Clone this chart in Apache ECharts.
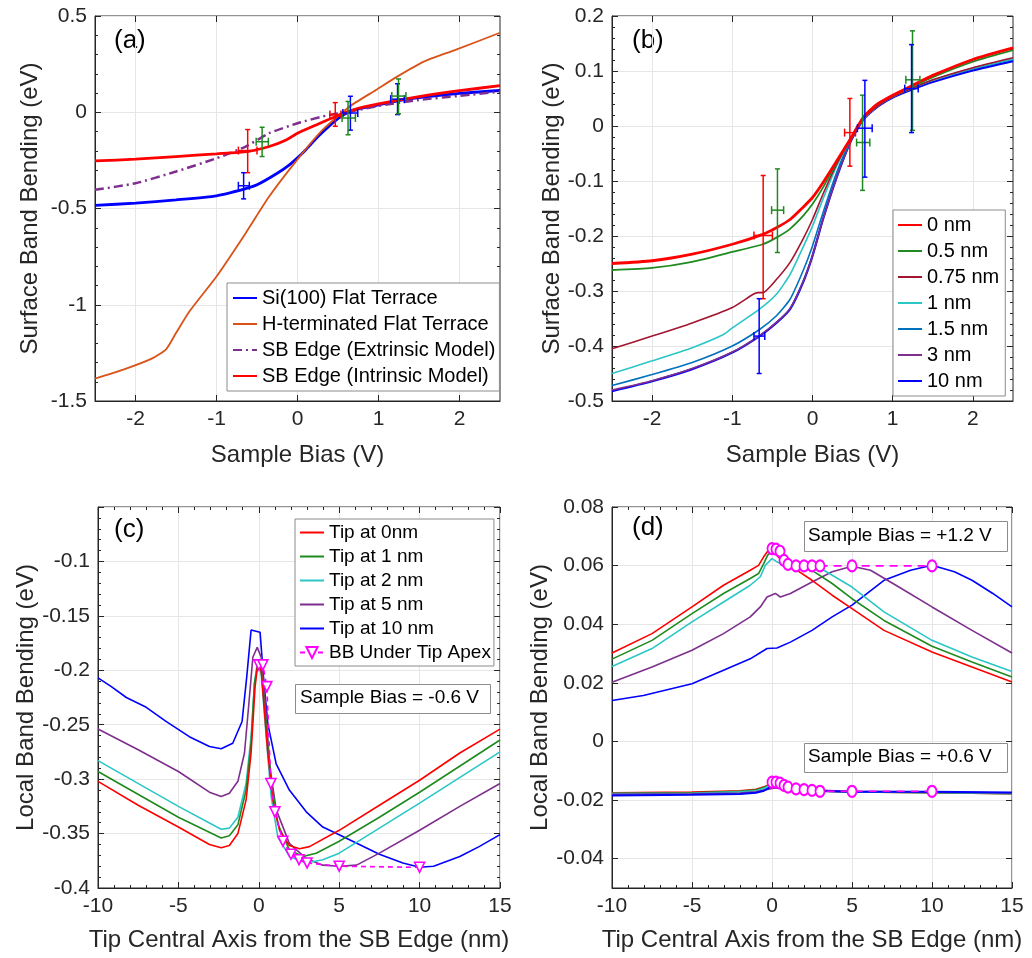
<!DOCTYPE html>
<html><head><meta charset="utf-8">
<script src="https://cdn.jsdelivr.net/npm/echarts@6/dist/echarts.min.js"></script>
<style>html,body{margin:0;padding:0;background:#fff}#c{width:1032px;height:958px}</style>
</head><body><div id="c"></div>
<script>
// ---------- Panel (a) ----------
const aSiFlat = [[-2.5,-0.484],[-2.0,-0.472],[-1.5,-0.455],[-1.0,-0.434],[-0.65,-0.398],[-0.5,-0.377],[-0.25,-0.317],[-0.1,-0.273],[0,-0.237],[0.1,-0.196],[0.25,-0.128],[0.4,-0.068],[0.55,-0.017],[0.7,0.012],[1.0,0.038],[1.25,0.060],[1.5,0.076],[2.0,0.098],[2.5,0.113]];
const aHTerm = [[-2.5,-1.384],[-2.15,-1.337],[-1.8,-1.28],[-1.62,-1.23],[-1.5,-1.147],[-1.335,-1.035],[-1.0,-0.853],[-0.64,-0.628],[-0.35,-0.438],[0,-0.245],[0.31,-0.092],[0.64,0.029],[0.97,0.116],[1.23,0.185],[1.56,0.263],[1.95,0.324],[2.5,0.413]];
const aExtrinsic = [[-2.5,-0.403],[-2.0,-0.369],[-1.5,-0.308],[-1.0,-0.239],[-0.64,-0.178],[-0.35,-0.109],[0,-0.057],[0.39,-0.014],[0.64,0.003],[1.0,0.033],[1.5,0.064],[2.0,0.085],[2.5,0.107]];
const aIntrinsic = [[-2.5,-0.253],[-2.0,-0.244],[-1.5,-0.230],[-1.0,-0.216],[-0.62,-0.204],[-0.35,-0.178],[-0.14,-0.144],[0,-0.109],[0.23,-0.066],[0.47,-0.022],[0.72,0.016],[1.0,0.043],[1.5,0.081],[2.0,0.112],[2.5,0.138]];
// error bars: [x, y, yLow, yHigh, xLow, xHigh]
const ebRed = [[-0.615,-0.199,-0.314,-0.090,-0.73,-0.50],[0.466,-0.012,-0.073,0.050,0.40,0.536]];
const ebGreen = [[-0.437,-0.153,-0.230,-0.078,-0.51,-0.36],[0.624,-0.030,-0.117,0.056,0.55,0.715],[1.247,0.084,-0.008,0.173,1.164,1.339]];
const ebBlue = [[-0.665,-0.382,-0.450,-0.314,-0.73,-0.595],[0.653,-0.004,-0.093,0.083,0.56,0.744],[1.235,0.068,-0.012,0.148,1.15,1.318]];
// ---------- Panel (b) ----------
const b0 = [[-2.5,-0.250],[-2,-0.245],[-1.5,-0.233],[-1,-0.215],[-0.62,-0.197],[-0.45,-0.185],[-0.28,-0.170],[-0.12,-0.148],[0,-0.130],[0.13,-0.103],[0.30,-0.064],[0.47,-0.024],[0.63,0.015],[0.80,0.039],[1.0,0.056],[1.25,0.074],[1.5,0.092],[2.0,0.121],[2.5,0.142]];
const b05 = [[-2.5,-0.262],[-2,-0.258],[-1.5,-0.247],[-1,-0.229],[-0.62,-0.215],[-0.45,-0.203],[-0.28,-0.187],[-0.12,-0.164],[0,-0.142],[0.13,-0.112],[0.30,-0.067],[0.47,-0.024],[0.63,0.015],[0.80,0.039],[1.0,0.055],[1.25,0.072],[1.5,0.089],[2.0,0.117],[2.5,0.138]];
const b075 = [[-2.5,-0.405],[-2,-0.382],[-1.5,-0.358],[-1,-0.330],[-0.74,-0.306],[-0.68,-0.303],[-0.62,-0.303],[-0.45,-0.279],[-0.28,-0.248],[-0.12,-0.206],[0,-0.170],[0.13,-0.124],[0.30,-0.070],[0.47,-0.025],[0.63,0.013],[0.83,0.038],[1.0,0.053],[1.25,0.069],[1.5,0.084],[2.0,0.106],[2.5,0.124]];
const b1 = [[-2.5,-0.450],[-2,-0.427],[-1.5,-0.403],[-1.11,-0.379],[-1,-0.367],[-0.66,-0.333],[-0.45,-0.306],[-0.28,-0.270],[-0.12,-0.221],[0,-0.182],[0.13,-0.133],[0.30,-0.073],[0.47,-0.025],[0.63,0.012],[0.83,0.038],[1.0,0.053],[1.25,0.069],[1.5,0.083],[2.0,0.105],[2.5,0.122]];
const b15 = [[-2.5,-0.472],[-2,-0.452],[-1.5,-0.430],[-1,-0.400],[-0.66,-0.370],[-0.45,-0.345],[-0.28,-0.315],[-0.12,-0.264],[0,-0.218],[0.13,-0.158],[0.30,-0.085],[0.47,-0.027],[0.63,0.012],[0.83,0.038],[1.0,0.053],[1.25,0.069],[1.5,0.083],[2.0,0.104],[2.5,0.121]];
const b3 = [[-2.5,-0.480],[-2,-0.463],[-1.5,-0.441],[-1,-0.411],[-0.66,-0.381],[-0.45,-0.357],[-0.28,-0.332],[-0.12,-0.284],[0,-0.236],[0.13,-0.170],[0.30,-0.094],[0.47,-0.030],[0.63,0.011],[0.83,0.038],[1.0,0.053],[1.25,0.069],[1.5,0.083],[2.0,0.105],[2.5,0.122]];
const b10 = [[-2.5,-0.482],[-2,-0.464],[-1.5,-0.442],[-1,-0.412],[-0.66,-0.382],[-0.45,-0.358],[-0.28,-0.333],[-0.12,-0.285],[0,-0.236],[0.13,-0.170],[0.30,-0.094],[0.47,-0.030],[0.63,0.011],[0.83,0.037],[1.0,0.052],[1.25,0.067],[1.5,0.080],[2.0,0.101],[2.5,0.118]];
// ---------- Panel (c) ----------
const cTip0 = [[-10,-0.302],[-7.5,-0.324],[-5,-0.344],[-3.07,-0.360],[-2.34,-0.363],[-1.83,-0.361],[-1.3,-0.350],[-0.79,-0.319],[-0.48,-0.276],[-0.23,-0.215],[-0.06,-0.194],[0.15,-0.200],[0.35,-0.237],[0.56,-0.276],[0.87,-0.319],[1.29,-0.347],[1.9,-0.361],[2.53,-0.364],[3.15,-0.362],[5,-0.347],[7.5,-0.324],[10,-0.301],[12.5,-0.276],[15,-0.254]];
const cTip1 = [[-10,-0.293],[-5,-0.335],[-2.34,-0.354],[-1.83,-0.352],[-1.3,-0.342],[-0.79,-0.310],[-0.48,-0.267],[-0.27,-0.212],[-0.06,-0.194],[0.15,-0.200],[0.46,-0.249],[0.77,-0.301],[1.18,-0.341],[1.9,-0.365],[2.74,-0.371],[3.57,-0.368],[5,-0.357],[7.5,-0.335],[10,-0.312],[15,-0.264]];
const cTip2 = [[-10,-0.283],[-5,-0.325],[-2.34,-0.346],[-1.83,-0.345],[-1.3,-0.335],[-0.79,-0.304],[-0.48,-0.261],[-0.27,-0.212],[-0.10,-0.194],[0.15,-0.203],[0.46,-0.261],[0.77,-0.316],[1.18,-0.353],[1.9,-0.371],[2.95,-0.377],[3.98,-0.374],[5,-0.368],[7.5,-0.345],[10,-0.322],[15,-0.275]];
const cTip5 = [[-10,-0.254],[-7.5,-0.273],[-5,-0.293],[-3.07,-0.312],[-2.34,-0.316],[-1.83,-0.313],[-1.3,-0.302],[-0.89,-0.276],[-0.62,-0.231],[-0.37,-0.188],[-0.10,-0.179],[0.15,-0.188],[0.41,-0.231],[0.66,-0.286],[1.08,-0.328],[1.9,-0.359],[2.95,-0.373],[3.98,-0.379],[5,-0.380],[6.08,-0.379],[7.5,-0.368],[10,-0.347],[12.5,-0.325],[15,-0.304]];
const cTip10 = [[-10,-0.207],[-9.17,-0.215],[-8.24,-0.225],[-7.0,-0.234],[-5.77,-0.247],[-4.32,-0.261],[-3.07,-0.270],[-2.34,-0.272],[-1.62,-0.267],[-1.04,-0.247],[-0.75,-0.206],[-0.48,-0.163],[0.08,-0.165],[0.29,-0.206],[0.56,-0.249],[1.08,-0.286],[1.9,-0.310],[2.95,-0.330],[3.98,-0.344],[5,-0.351],[7.5,-0.369],[8.96,-0.377],[10,-0.381],[10.87,-0.380],[12.5,-0.371],[13.7,-0.362],[15,-0.351]];
const cApex = [[0,-0.195],[0.25,-0.195],[0.5,-0.215],[0.75,-0.304],[1,-0.330],[1.5,-0.357],[2,-0.369],[2.5,-0.374],[3,-0.377],[5,-0.380],[10,-0.381]];
// ---------- Panel (d) ----------
const dHi0 = [[-10,0.0302],[-7.5,0.0368],[-5,0.0459],[-3.03,0.0533],[-1.36,0.0584],[-0.84,0.0601],[-0.52,0.063],[-0.27,0.0649],[0,0.0655],[0.31,0.0636],[0.73,0.0607],[1.57,0.0584],[2.5,0.055],[3.76,0.0499],[5,0.0453],[7,0.0379],[10,0.0305],[12.5,0.0254],[15,0.0203]];
const dHi1 = [[-10,0.0281],[-7.5,0.0345],[-5,0.0436],[-3.03,0.0505],[-1.36,0.0556],[-0.84,0.0573],[-0.52,0.0607],[-0.27,0.0636],[0,0.0649],[0.21,0.0641],[0.73,0.0613],[1.57,0.0598],[2.5,0.0584],[3.76,0.0539],[5,0.0487],[7,0.0413],[10,0.0325],[12.5,0.0271],[15,0.022]];
const dHi2 = [[-10,0.0256],[-7.5,0.0317],[-5,0.0408],[-3.03,0.0476],[-1.36,0.0533],[-0.73,0.0562],[-0.42,0.0601],[0,0.0624],[0.31,0.0613],[0.73,0.0601],[1.57,0.0596],[3.24,0.0584],[5,0.0527],[7,0.0442],[10,0.0345],[12.5,0.0288],[15,0.0239]];
const dHi5 = [[-10,0.0202],[-7.5,0.0254],[-5,0.0311],[-3.03,0.0368],[-1.36,0.0425],[-0.73,0.0459],[-0.31,0.0493],[0.21,0.0505],[0.52,0.0493],[1.15,0.0505],[2.5,0.0544],[3.76,0.0579],[5,0.0598],[6.16,0.0584],[7.93,0.0527],[10,0.0459],[12.5,0.0379],[15,0.0302]];
const dHi10 = [[-10,0.014],[-8.04,0.0157],[-5,0.0197],[-3.03,0.0243],[-1.36,0.0282],[-0.31,0.0317],[0.31,0.0319],[1.15,0.0339],[2.5,0.0379],[3.76,0.0425],[5,0.0465],[7,0.055],[8.66,0.0584],[10,0.0601],[11.4,0.0579],[12.5,0.055],[13.8,0.0505],[15,0.0459]];
const dHiApex = [[0,0.0658],[0.25,0.0656],[0.5,0.0649],[0.75,0.0618],[1,0.0604],[1.5,0.0599],[2,0.0599],[2.5,0.0599],[3,0.0599],[5,0.0599],[10,0.0599]];
const dLo0 = [[-10,-0.0175],[-5,-0.0173],[-2,-0.0168],[-1,-0.0163],[-0.5,-0.0155],[0,-0.0142],[0.5,-0.0148],[1,-0.016],[2,-0.0168],[5,-0.0172],[10,-0.0175],[15,-0.0178]];
const dLo1 = [[-10,-0.0177],[-5,-0.0175],[-2,-0.017],[-1,-0.0165],[-0.5,-0.0157],[0,-0.0143],[0.5,-0.0147],[1,-0.0158],[2,-0.0167],[5,-0.0172],[10,-0.0175],[15,-0.0178]];
const dLo2 = [[-10,-0.0178],[-5,-0.0177],[-2,-0.0172],[-1,-0.0168],[-0.5,-0.016],[0,-0.0145],[0.5,-0.0148],[1,-0.0158],[2,-0.0166],[5,-0.0172],[10,-0.0174],[15,-0.0177]];
const dLo5 = [[-10,-0.018],[-5,-0.0179],[-2,-0.0176],[-1,-0.0172],[0,-0.016],[0.5,-0.0158],[1,-0.016],[2,-0.0165],[5,-0.017],[10,-0.0173],[15,-0.0176]];
const dLo10 = [[-10,-0.0184],[-5,-0.0182],[-2,-0.0179],[-1,-0.0175],[-0.5,-0.0168],[0,-0.0152],[0.5,-0.0156],[1,-0.0162],[2,-0.0168],[5,-0.0172],[10,-0.0172],[15,-0.0174]];
const dLoApex = [[0,-0.0139],[0.25,-0.0139],[0.5,-0.0142],[0.75,-0.015],[1,-0.0156],[1.5,-0.0162],[2,-0.0164],[2.5,-0.0167],[3,-0.017],[5,-0.017],[10,-0.017]];
// ---------- tick labels ----------
const biasTicks = [-2,-1,0,1,2];
const dYTicks = [-0.04,-0.02,0,0.02,0.04,0.06,0.08];
// ---------- legend names ----------
const aNames = ['Si(100) Flat Terrace','H-terminated Flat Terrace','SB Edge (Extrinsic Model)','SB Edge (Intrinsic Model)'];
const bNames = ['0 nm','0.5 nm','0.75 nm','1 nm','1.5 nm','3 nm','10 nm'];
const cNames = ['Tip at 0nm','Tip at 1 nm','Tip at 2 nm','Tip at 5 nm','Tip at 10 nm','BB Under Tip Apex'];

const FONT = "'Liberation Sans', Arial, sans-serif";
const C = {red:'#FF0000', green:'#1F8A1F', cyan:'#2BC6C6', purple:'#7E2F8E', blue:'#0000FF', orange:'#D95319', dred:'#A2142F', lblue:'#0072BD', mag:'#FF00FF'};

function line(name, data, color, width, gi, extra) {
  return Object.assign({type:'line', name:name, data:data, xAxisIndex:gi, yAxisIndex:gi, symbol:'none', showSymbol:false,
    lineStyle:{color:color, width:width}, itemStyle:{color:color}, animation:false, silent:true, z:3}, extra||{});
}
function eb(data, color, gi) {
  return {type:'custom', data:data, xAxisIndex:gi, yAxisIndex:gi, z:6, silent:true, animation:false,
    encode:{x:[0,4,5], y:[1,2,3]},
    renderItem:function(params, api){
      const x=api.value(0), y=api.value(1);
      const c=api.coord([x,y]), lo=api.coord([x,api.value(2)]), hi=api.coord([x,api.value(3)]);
      const l=api.coord([api.value(4),y]), r=api.coord([api.value(5),y]);
      const st={stroke:color, lineWidth:1.5};
      const cw=2.5, ch=4;
      return {type:'group', children:[
        {type:'line', shape:{x1:c[0],y1:lo[1],x2:c[0],y2:hi[1]}, style:st},
        {type:'line', shape:{x1:c[0]-cw,y1:lo[1],x2:c[0]+cw,y2:lo[1]}, style:st},
        {type:'line', shape:{x1:c[0]-cw,y1:hi[1],x2:c[0]+cw,y2:hi[1]}, style:st},
        {type:'line', shape:{x1:l[0],y1:c[1],x2:r[0],y2:c[1]}, style:st},
        {type:'line', shape:{x1:l[0],y1:c[1]-ch,x2:l[0],y2:c[1]+ch}, style:st},
        {type:'line', shape:{x1:r[0],y1:c[1]-ch,x2:r[0],y2:c[1]+ch}, style:st}
      ]};
    }};
}
const AX = '#262626';
function axis(gi, o) {
  const base = {gridIndex:gi, type:'value', nameLocation:'middle',
    nameTextStyle:{fontSize:24, color:AX, fontFamily:FONT},
    axisLine:{show:true, onZero:false, lineStyle:{color:AX, width:1}},
    axisTick:{show:true, inside:true, length:6, lineStyle:{color:AX}},
    minorTick:{show:false, length:3, lineStyle:{color:AX}},
    axisLabel:{fontSize:21, color:AX, fontFamily:FONT, margin:8},
    splitLine:{show:true, lineStyle:{color:'#E6E6E6', width:1}}};
  for (const k in o) {
    if (typeof o[k]==='object' && !Array.isArray(o[k]) && base[k]) base[k]=Object.assign({}, base[k], o[k]);
    else base[k]=o[k];
  }
  return base;
}
// mirrored (top/right) axis: ticks only
function mirror(gi, pos, o) {
  const m = axis(gi, o);
  m.position = pos; m.name = '';
  m.axisLine = {show:false, onZero:false};
  m.axisLabel = Object.assign({}, m.axisLabel, {show:false});
  m.splitLine = {show:false};
  return m;
}
const sm = {smooth:0.2};

const series = [
  // (a)
  line(aNames[0], aSiFlat, C.blue, 2.8, 0, sm),
  line(aNames[1], aHTerm, C.orange, 1.8, 0, sm),
  line(aNames[2], aExtrinsic, C.purple, 2.5, 0, Object.assign({lineStyle:{color:C.purple,width:2.5,type:[9,4,2,4]}}, sm)),
  line(aNames[3], aIntrinsic, C.red, 2.8, 0, sm),
  eb(ebBlue, C.blue, 0), eb(ebRed, C.red, 0), eb(ebGreen, C.green, 0),
  // (b)
  line(bNames[6], b10, C.blue, 2.2, 1, sm),
  line(bNames[5], b3, C.purple, 1.6, 1, sm),
  line(bNames[4], b15, C.lblue, 1.6, 1, sm),
  line(bNames[3], b1, C.cyan, 1.6, 1, sm),
  line(bNames[2], b075, C.dred, 1.6, 1, sm),
  line(bNames[1], b05, C.green, 1.8, 1, sm),
  line(bNames[0], b0, C.red, 2.8, 1, sm),
  eb(ebRed, C.red, 1), eb(ebGreen, C.green, 1), eb(ebBlue, C.blue, 1),
  // (c)
  line(cNames[4], cTip10, C.blue, 1.6, 2),
  line(cNames[3], cTip5, C.purple, 1.6, 2),
  line(cNames[2], cTip2, C.cyan, 1.6, 2),
  line(cNames[1], cTip1, C.green, 1.6, 2),
  line(cNames[0], cTip0, C.red, 1.6, 2),
  line(cNames[5], cApex, C.mag, 1.6, 2, {symbol:'triangle', symbolRotate:180, symbolSize:10, showSymbol:true,
    lineStyle:{color:C.mag, width:1.6, type:[5,4]}, itemStyle:{color:'#fff', borderColor:C.mag, borderWidth:1.6}, z:5}),
  // (d)
  line('d10', dHi10, C.blue, 1.6, 3), line('d5', dHi5, C.purple, 1.6, 3), line('d2', dHi2, C.cyan, 1.6, 3),
  line('d1', dHi1, C.green, 1.6, 3), line('d0', dHi0, C.red, 1.6, 3),
  line('dl0', dLo0, C.red, 1.6, 3), line('dl1', dLo1, C.green, 1.6, 3), line('dl2', dLo2, C.cyan, 1.6, 3),
  line('dl5', dLo5, C.purple, 1.6, 3), line('dl10', dLo10, C.blue, 2, 3),
  line('dApexHi', dHiApex, C.mag, 1.6, 3, {symbol:'emptyCircle', symbolSize:[9,11], showSymbol:true,
    lineStyle:{color:C.mag, width:1.6, type:[8,6]}, itemStyle:{color:C.mag, borderColor:C.mag, borderWidth:1.6}, z:5}),
  line('dApexLo', dLoApex, C.mag, 1.6, 3, {symbol:'emptyCircle', symbolSize:[9,11], showSymbol:true,
    lineStyle:{color:C.mag, width:1.6, type:[8,6]}, itemStyle:{color:C.mag, borderColor:C.mag, borderWidth:1.6}, z:5})
];

const legendBase = {orient:'vertical', itemWidth:24, itemHeight:14, borderColor:'#8c8c8c', borderWidth:1,
  backgroundColor:'#fff', borderRadius:0, inactiveColor:'#000', selectedMode:false};
function plainItems(names) { return names.map(function(n){ return {name:n, itemStyle:{opacity:0}}; }); }

const xa = {min:-2.5, max:2.5, axisTick:{customValues:biasTicks}, axisLabel:{customValues:biasTicks}};
const xc = {min:-10, max:15, interval:5, minorTick:{show:true, splitNumber:5}};
const ya = {min:-1.5, max:0.5, interval:0.5, minorTick:{show:true, splitNumber:5}};
const yb = {min:-0.5, max:0.2, interval:0.1, minorTick:{show:true, splitNumber:5}};
const yc = {min:-0.4, max:-0.05, interval:0.05, minorTick:{show:true, splitNumber:5}};
const yd = {min:-0.05, max:0.08, axisTick:{customValues:dYTicks}, axisLabel:{customValues:dYTicks}};

const option = {
  animation:false,
  backgroundColor:'#fff',
  grid:[
    {left:95, top:16, width:405, height:385, show:true, borderColor:AX, borderWidth:1},
    {left:612, top:16, width:401, height:385, show:true, borderColor:AX, borderWidth:1},
    {left:98, top:507, width:402, height:381, show:true, borderColor:AX, borderWidth:1},
    {left:612, top:507, width:400, height:381, show:true, borderColor:AX, borderWidth:1}
  ],
  xAxis:[
    axis(0, Object.assign({name:'Sample Bias (V)', nameGap:42}, xa)),
    axis(1, Object.assign({name:'Sample Bias (V)', nameGap:42}, xa)),
    axis(2, Object.assign({name:'Tip Central Axis from the SB Edge (nm)', nameGap:40}, xc)),
    axis(3, Object.assign({name:'Tip Central Axis from the SB Edge (nm)', nameGap:40}, xc)),
    mirror(0, 'top', xa), mirror(1, 'top', xa), mirror(2, 'top', xc), mirror(3, 'top', xc)
  ],
  yAxis:[
    axis(0, Object.assign({name:'Surface Band Bending (eV)', nameGap:53}, ya)),
    axis(1, Object.assign({name:'Surface Band Bending (eV)', nameGap:36}, yb)),
    axis(2, Object.assign({name:'Local Band Bending (eV)', nameGap:58}, yc, {axisLabel:{showMaxLabel:false}})),
    axis(3, Object.assign({name:'Local Band Bending (eV)', nameGap:52}, yd)),
    mirror(0, 'right', ya), mirror(1, 'right', yb), mirror(2, 'right', yc), mirror(3, 'right', yd)
  ],
  legend:[
    Object.assign({}, legendBase, {left:227, top:283, itemGap:6, padding:[5,4,5,5], data:plainItems(aNames),
      textStyle:{fontSize:20, lineHeight:20, color:'#000', fontFamily:FONT}}),
    Object.assign({}, legendBase, {left:893, top:210, itemGap:6, padding:[5,6,5,4], data:plainItems(bNames),
      textStyle:{fontSize:20, lineHeight:20, color:'#000', fontFamily:FONT}}),
    Object.assign({}, legendBase, {left:295, top:519, itemGap:5, padding:[4,3,4,4],
      data:plainItems(cNames.slice(0,5)).concat([{name:cNames[5]}]),
      textStyle:{fontSize:19, lineHeight:19, color:'#000', fontFamily:FONT}})
  ],
  graphic:[
    {type:'text', left:114, top:28, style:{text:'(a)', font:'26px '+FONT, fill:'#000'}},
    {type:'text', left:632, top:28, style:{text:'(b)', font:'26px '+FONT, fill:'#000'}},
    {type:'text', left:114, top:517, style:{text:'(c)', font:'26px '+FONT, fill:'#000'}},
    {type:'text', left:632, top:515, style:{text:'(d)', font:'26px '+FONT, fill:'#000'}},
    {type:'rect', left:295, top:684, shape:{width:195, height:29}, style:{fill:'#fff', stroke:'#8c8c8c', lineWidth:1}, z:10},
    {type:'text', left:300, top:688, style:{text:'Sample Bias = -0.6 V', font:'19px '+FONT, fill:'#000'}, z:11},
    {type:'rect', left:804, top:521, shape:{width:203, height:30}, style:{fill:'#fff', stroke:'#8c8c8c', lineWidth:1}, z:10},
    {type:'text', left:808, top:526, style:{text:'Sample Bias = +1.2 V', font:'19px '+FONT, fill:'#000'}, z:11},
    {type:'rect', left:804, top:743, shape:{width:203, height:29}, style:{fill:'#fff', stroke:'#8c8c8c', lineWidth:1}, z:10},
    {type:'text', left:808, top:747, style:{text:'Sample Bias = +0.6 V', font:'19px '+FONT, fill:'#000'}, z:11}
  ],
  series:series
};
const chart = echarts.init(document.getElementById('c'), null, {renderer:'canvas'});
chart.setOption(option);
</script></body></html>
